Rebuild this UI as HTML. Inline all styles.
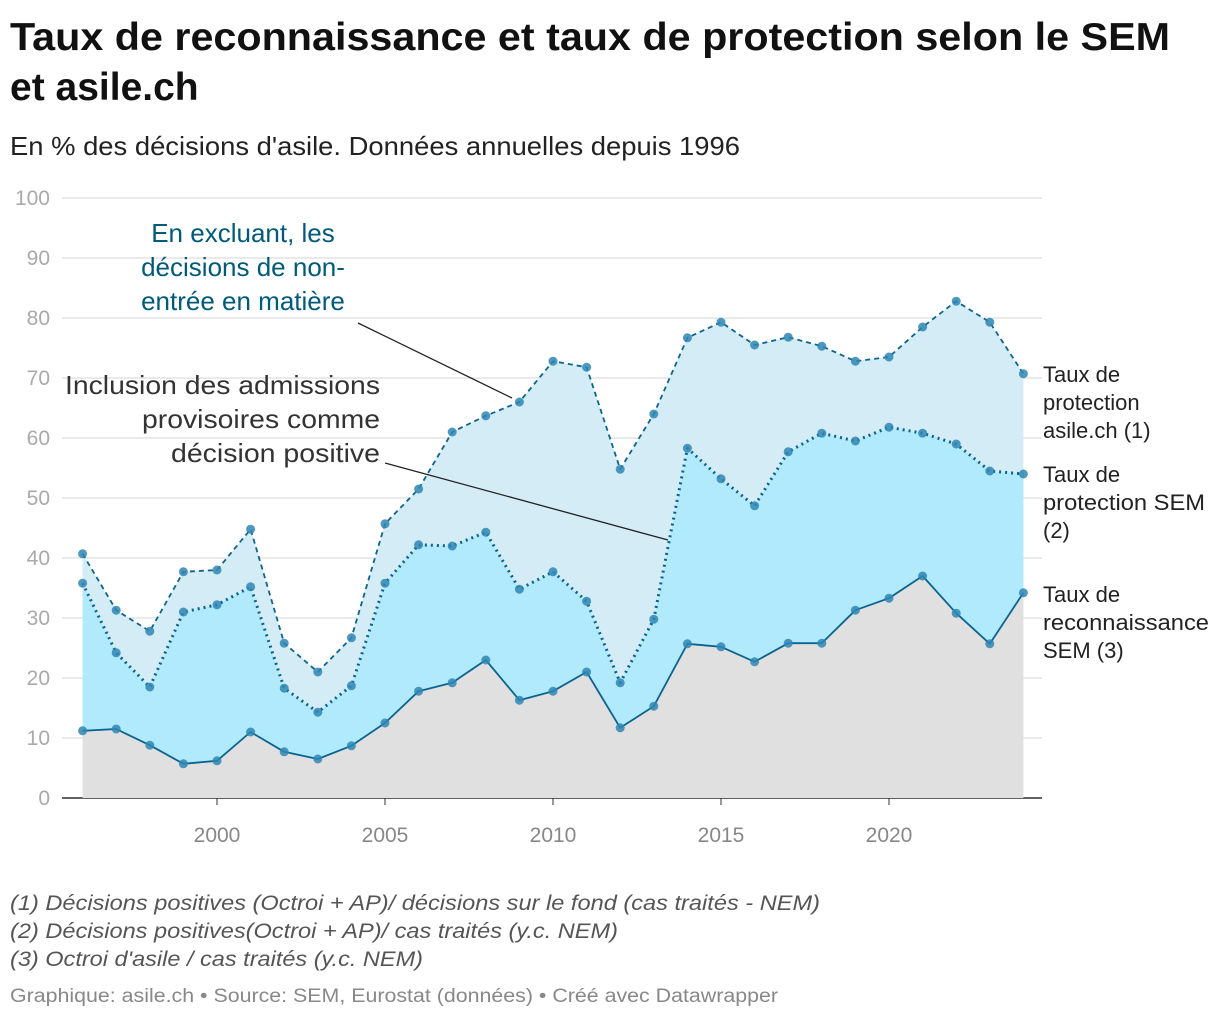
<!DOCTYPE html>
<html><head><meta charset="utf-8"><style>
body{margin:0;background:#fff;width:1220px;height:1018px;overflow:hidden;font-family:"Liberation Sans",sans-serif}
</style></head><body>
<svg id="chart" width="1220" height="1018" xmlns="http://www.w3.org/2000/svg" font-family="Liberation Sans, sans-serif">
<text x="10" y="50" font-size="39" font-weight="bold" fill="#111" textLength="1160" lengthAdjust="spacingAndGlyphs">Taux de reconnaissance et taux de protection selon le SEM</text>
<text x="10" y="100" font-size="39" font-weight="bold" fill="#111">et asile.ch</text>
<text x="10" y="155" font-size="26" fill="#222" textLength="730" lengthAdjust="spacingAndGlyphs">En % des décisions d'asile. Données annuelles depuis 1996</text>
<g id="grid"></g>
<g id="areas"></g>
<g id="lines"></g>
<g id="annot">
<text x="243" y="242" font-size="26" fill="#005a7a" text-anchor="middle"><tspan x="243">En excluant, les</tspan><tspan x="243" dy="34">décisions de non-</tspan><tspan x="243" dy="34">entrée en matière</tspan></text>
<line x1="358" y1="323" x2="512" y2="398" stroke="#222" stroke-width="1.3"/>
<text x="380" y="394" font-size="26" fill="#333" text-anchor="end"><tspan x="380" textLength="315" lengthAdjust="spacingAndGlyphs">Inclusion des admissions</tspan><tspan x="380" dy="34" textLength="238" lengthAdjust="spacingAndGlyphs">provisoires comme</tspan><tspan x="380" dy="34" textLength="209" lengthAdjust="spacingAndGlyphs">décision positive</tspan></text>
<line x1="385" y1="463" x2="668" y2="540" stroke="#222" stroke-width="1.3"/>
</g>
<g font-size="22" fill="#222">
<text x="1043" y="382"><tspan x="1043">Taux de</tspan><tspan x="1043" dy="28">protection</tspan><tspan x="1043" dy="28">asile.ch (1)</tspan></text>
<text x="1043" y="482"><tspan x="1043">Taux de</tspan><tspan x="1043" dy="28" textLength="162" lengthAdjust="spacingAndGlyphs">protection SEM</tspan><tspan x="1043" dy="28">(2)</tspan></text>
<text x="1043" y="602"><tspan x="1043">Taux de</tspan><tspan x="1043" dy="28" textLength="166" lengthAdjust="spacingAndGlyphs">reconnaissance</tspan><tspan x="1043" dy="28">SEM (3)</tspan></text>
</g>
<g font-size="21" font-style="italic" fill="#555">
<text x="10" y="910" textLength="810" lengthAdjust="spacingAndGlyphs">(1) Décisions positives (Octroi + AP)/ décisions sur le fond (cas traités - NEM)</text>
<text x="10" y="938" textLength="608" lengthAdjust="spacingAndGlyphs">(2) Décisions positives(Octroi + AP)/ cas traités (y.c. NEM)</text>
<text x="10" y="966" textLength="413" lengthAdjust="spacingAndGlyphs">(3) Octroi d'asile / cas traités (y.c. NEM)</text>
</g>
<text x="10" y="1002" font-size="19" fill="#888" textLength="768" lengthAdjust="spacingAndGlyphs">Graphique: asile.ch • Source: SEM, Eurostat (données) • Créé avec Datawrapper</text>
</svg>
<script>
const years=[1996,1997,1998,1999,2000,2001,2002,2003,2004,2005,2006,2007,2008,2009,2010,2011,2012,2013,2014,2015,2016,2017,2018,2019,2020,2021,2022,2023,2024];
const asile=[40.7,31.3,27.8,37.7,38,44.8,25.8,21,26.7,45.7,51.5,61,63.7,66,72.8,71.8,54.8,64,76.7,79.3,75.5,76.8,75.3,72.8,73.5,78.5,82.8,79.3,70.7];
const sem=[35.8,24.2,18.5,31,32.2,35.2,18.3,14.3,18.7,35.8,42.2,42,44.3,34.8,37.7,32.8,19.2,29.8,58.3,53.2,48.7,57.7,60.8,59.5,61.8,60.8,59,54.5,54];
const reco=[11.2,11.5,8.8,5.7,6.2,11,7.7,6.5,8.7,12.5,17.8,19.2,23,16.3,17.8,21,11.7,15.3,25.7,25.2,22.7,25.8,25.8,31.3,33.3,37,30.8,25.7,34.2];
const yTicks=[0,10,20,30,40,50,60,70,80,90,100];
const xTicks=[2000,2005,2010,2015,2020];
const NS="http://www.w3.org/2000/svg";
const X=y=>82.6+(y-1996)*33.6;
const Y=v=>798-v*6;
function mk(tag,attrs,parent){const e=document.createElementNS(NS,tag);for(const k in attrs)e.setAttribute(k,attrs[k]);parent.appendChild(e);return e;}
const grid=document.getElementById('grid'),areas=document.getElementById('areas'),lines=document.getElementById('lines');
yTicks.forEach(t=>{
 const l=mk('line',{x1:62,x2:1042,y1:Y(t),y2:Y(t),stroke:'#e3e3e3','stroke-width':1.5},grid);
 
 
 const tx=mk('text',{x:50,y:Y(t)+7,'font-size':21,fill:'#aaa','text-anchor':'end'},grid);
 tx.textContent=t;
 
 
});
xTicks.forEach(t=>{
 const tk=mk('line',{x1:X(t),x2:X(t),y1:798,y2:805,stroke:'#333','stroke-width':1},grid);
 
 
 const tx=mk('text',{x:X(t),y:842,'font-size':21,fill:'#888','text-anchor':'middle'},grid);
 tx.textContent=t;
 
 
});
function pts(arr){return arr.map((v,i)=>X(years[i])+','+Y(v)).join(' ');}
function area(upper,lower,fill,name){
 const p=pts(upper)+' '+(lower?lower.map((v,i)=>i).reverse().map(i=>X(years[i])+','+Y(lower[i])).join(' '):X(years[years.length-1])+','+Y(0)+' '+X(years[0])+','+Y(0));
 const a=mk('polygon',{points:p,fill:fill},areas);
 
 
}
area(asile,sem,'#d3ecf6','area-asile');
area(sem,reco,'#b1eafc','area-sem');
area(reco,null,'#e0e0e0','area-reco');
const ax=mk('line',{x1:62,x2:1042,y1:798,y2:798,stroke:'#333','stroke-width':1.5},grid);


function line(arr,dash,w,name){
 const l=mk('polyline',{points:pts(arr),fill:'none',stroke:'#0b6392','stroke-width':w,'stroke-dasharray':dash,'stroke-linejoin':'round'},lines);
 
 
 arr.forEach((v,i)=>{
  const c=mk('circle',{cx:X(years[i]),cy:Y(v),r:4.5,fill:'#2f86b3','fill-opacity':0.85},lines);
  
  
 });
}
line(asile,'5,4',1.8,'line-asile');
line(sem,'2,4',3,'line-sem');
line(reco,'none',1.8,'line-reco');
</script>
</body></html>
